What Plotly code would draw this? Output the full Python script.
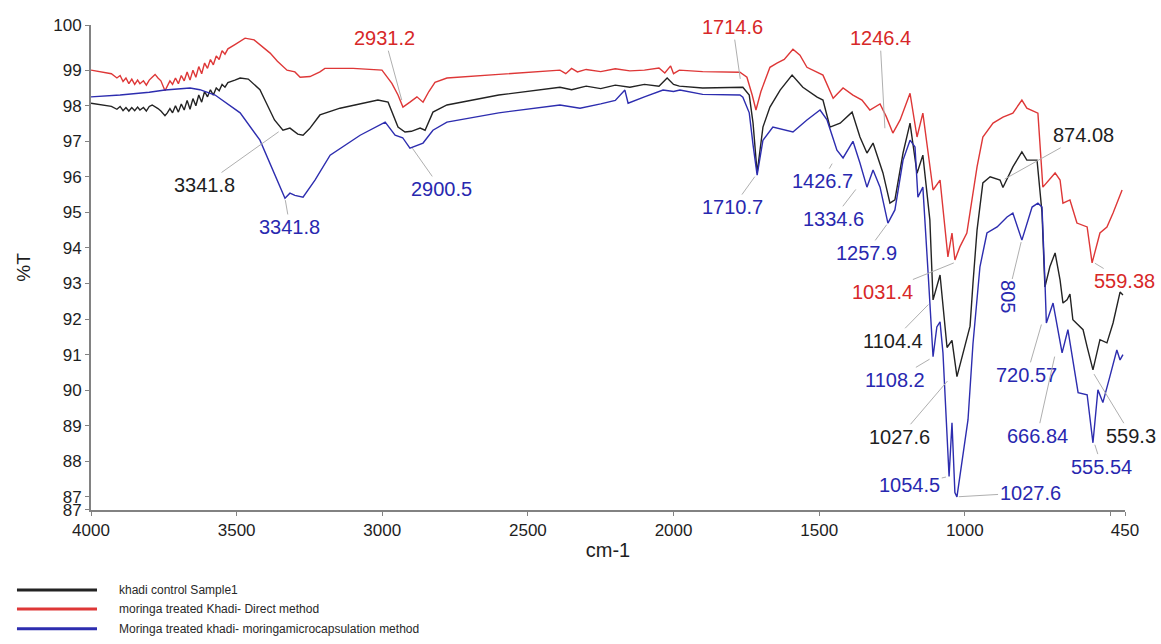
import plotly.graph_objects as go

# ---------------- data (wavenumber cm-1, %T) ----------------
ctrl_wn = [4000, 3960, 3930, 3911, 3900, 3890, 3880, 3870, 3860, 3850, 3840, 3832, 3820, 3810, 3800, 3790,
           3780, 3770, 3760, 3746, 3738, 3729, 3720, 3710, 3700, 3690, 3680, 3670, 3660, 3650, 3640, 3630,
           3620, 3610, 3600, 3590, 3580, 3570, 3560, 3550, 3540, 3530, 3506, 3488,
           3460, 3420, 3403, 3370, 3341, 3317, 3290, 3272, 3250,
           3214, 3145, 3076, 3015, 2980, 2946, 2922, 2900, 2870, 2853, 2826, 2778, 2600, 2390, 2350, 2300,
           2250, 2200, 2150, 2100, 2050, 2022, 2000, 1980, 1900, 1762, 1740, 1727, 1713, 1693, 1669, 1634,
           1593, 1556, 1507, 1487, 1463, 1428, 1387, 1370, 1360, 1336, 1315, 1281, 1257, 1240, 1212, 1188,
           1164, 1144, 1120, 1109, 1085, 1061, 1044, 1027, 1006, 982, 972, 958, 938, 913, 879, 869,
           835, 804, 787, 752, 735, 725, 708, 690, 673, 663, 649, 639, 629, 604, 594, 580,
           560, 536, 512, 491, 467, 457]
ctrl_t = [98.07, 98.03, 97.98, 97.90, 97.98, 97.86, 97.95, 97.85, 97.95, 97.86, 97.96, 97.88, 97.95, 97.85, 97.98, 98.02,
          97.98, 97.92, 97.85, 97.72, 97.80, 97.92, 97.80, 98.00, 97.82, 98.05, 97.88, 98.15, 97.90, 98.20, 98.00, 98.30,
          98.10, 98.40, 98.25, 98.45, 98.30, 98.50, 98.42, 98.60, 98.52, 98.65, 98.72, 98.78,
          98.75, 98.45, 98.16, 97.60, 97.31, 97.37, 97.20, 97.17, 97.35,
          97.74, 97.93, 98.05, 98.16, 98.10, 97.40, 97.26, 97.28, 97.37, 97.31, 97.82, 98.02, 98.30, 98.52, 98.45, 98.55,
          98.48, 98.58, 98.52, 98.60, 98.55, 98.78, 98.60, 98.55, 98.50, 98.52, 98.30, 97.51, 96.11, 97.40, 97.96, 98.44,
          98.86, 98.52, 98.24, 98.16, 97.40, 97.51, 97.82, 97.40, 97.12, 96.67, 96.95, 96.11, 95.26, 95.35, 96.67, 97.51,
          96.10, 96.61, 94.79, 92.54, 93.24, 91.20, 91.40, 90.38, 91.05, 91.80, 93.00, 94.50, 95.83, 96.00, 95.91, 95.70,
          96.28, 96.70, 96.47, 96.47, 95.00, 92.90, 93.47, 93.86, 93.10, 92.45, 92.54, 92.70, 91.98, 91.78, 91.70, 91.22,
          90.57, 91.42, 91.33, 91.89, 92.76, 92.68]

direct_wn = [4000, 3960, 3930, 3911, 3900, 3890, 3880, 3870, 3860, 3850, 3840, 3832, 3820, 3810, 3800, 3790,
             3780, 3770, 3760, 3746, 3738, 3729, 3720, 3710, 3700, 3690, 3680, 3670, 3660, 3650, 3640, 3630,
             3620, 3610, 3600, 3590, 3580, 3570, 3560, 3550, 3540, 3530, 3506, 3488, 3471,
             3440, 3403, 3385, 3360, 3327, 3300, 3282,
             3248, 3214, 3197, 3100, 3001, 2967, 2946, 2929, 2905, 2881, 2860, 2840, 2819, 2778, 2600, 2390,
             2370, 2350, 2330, 2300, 2250, 2200, 2150, 2100, 2050, 2030, 2010, 2000, 1980, 1900, 1772, 1748,
             1730, 1717, 1700, 1669, 1645, 1620, 1590, 1566, 1542, 1510, 1487, 1452, 1418, 1384, 1353, 1326,
             1291, 1270, 1247, 1222, 1188, 1164, 1144, 1109, 1085, 1058, 1044, 1034, 1017, 993, 982, 958,
             938, 903, 869, 835, 804, 787, 749, 732, 690, 673, 663, 639, 615, 580, 563, 536,
             512, 491, 460]
direct_t = [99.00, 98.95, 98.90, 98.78, 98.85, 98.68, 98.78, 98.62, 98.75, 98.60, 98.72, 98.62, 98.70, 98.58, 98.72, 98.80,
            98.88, 98.78, 98.70, 98.42, 98.55, 98.70, 98.60, 98.78, 98.62, 98.85, 98.70, 98.95, 98.72, 99.00, 98.80, 99.10,
            98.90, 99.20, 99.05, 99.30, 99.15, 99.40, 99.30, 99.55, 99.45, 99.60, 99.72, 99.82, 99.90,
            99.85, 99.60, 99.48, 99.25, 99.00, 98.95, 98.80,
            98.82, 98.95, 99.05, 99.05, 99.00, 98.63, 98.30, 97.96, 98.10, 98.25, 98.10, 98.40, 98.66, 98.78, 98.88, 99.00,
            98.90, 99.05, 98.95, 99.02, 98.96, 99.04, 98.98, 99.00, 99.06, 98.92, 99.12, 98.90, 99.00, 98.96, 98.94, 98.80,
            98.30, 97.88, 98.40, 99.08, 99.20, 99.30, 99.59, 99.42, 99.08, 98.95, 98.86, 98.21, 98.50, 98.30, 98.16, 97.88,
            98.05, 97.70, 97.23, 97.60, 98.35, 97.12, 97.79, 95.63, 95.91, 93.75, 94.42, 93.66, 94.03, 94.42, 94.98, 96.28,
            97.12, 97.51, 97.68, 97.79, 98.16, 97.93, 97.79, 95.71, 96.11, 95.91, 95.26, 95.35, 94.70, 94.59, 93.58, 94.42,
            94.59, 94.98, 95.63]

micro_wn = [4000, 3900, 3800, 3746, 3660, 3626, 3574, 3488, 3420, 3368, 3334, 3317, 3300, 3272, 3231, 3179,
            3076, 2990, 2956, 2930, 2905, 2860, 2826, 2778, 2600, 2390, 2321, 2250, 2200, 2167, 2156, 2100,
            2036, 2000, 1978, 1900, 1772, 1762, 1740, 1727, 1713, 1693, 1659, 1590, 1542, 1497, 1473, 1439,
            1418, 1384, 1360, 1336, 1315, 1291, 1264, 1240, 1212, 1188, 1171, 1161, 1144, 1126, 1109, 1096,
            1085, 1075, 1061, 1054, 1044, 1034, 1027, 1006, 989, 972, 948, 924, 889, 855, 835, 804,
            769, 749, 735, 725, 720, 697, 666, 646, 611, 580, 560, 543, 526, 502, 478, 467, 457]
micro_t = [98.25, 98.30, 98.38, 98.44, 98.50, 98.45, 98.30, 97.80, 97.03, 96.05, 95.40, 95.54, 95.48, 95.43, 95.91, 96.61,
           97.17, 97.54, 97.17, 97.10, 96.81, 96.95, 97.31, 97.54, 97.80, 98.02, 97.93, 98.05, 98.15, 98.44, 98.07, 98.25,
           98.44, 98.40, 98.44, 98.32, 98.30, 98.24, 97.80, 96.90, 96.05, 97.03, 97.40, 97.26, 97.60, 97.88, 97.60, 96.75,
           96.53, 97.00, 96.39, 95.71, 96.19, 95.71, 94.70, 95.07, 96.47, 97.03, 96.84, 95.43, 95.71, 93.30, 90.94, 91.78,
           91.92, 91.05, 88.97, 87.57, 89.08, 87.12, 87.00, 88.24, 89.17, 91.30, 93.47, 94.42, 94.59, 94.87, 94.98, 94.22,
           95.15, 95.26, 95.15, 93.10, 91.89, 92.45, 91.05, 91.70, 89.93, 89.87, 88.52, 90.01, 89.65, 90.38, 91.13, 90.85, 91.00]

series_names = ["khadi control Sample1",
                "moringa treated Khadi- Direct method",
                "Moringa treated khadi- moringamicrocapsulation method"]

x_tick_vals = [4000, 3500, 3000, 2500, 2000, 1500, 1000, 500, 450]
x_tick_text = ["4000", "3500", "3000", "2500", "2000", "1500", "1000", "", "450"]
y_tick_vals = [86.64, 87, 88, 89, 90, 91, 92, 93, 94, 95, 96, 97, 98, 99, 100.26]
y_tick_text = ["87", "87", "88", "89", "90", "91", "92", "93", "94", "95", "96", "97", "98", "99", "100"]

# peak labels: text, series, peak (wn, %T), label centre (wn, %T), angle
peak_text = ["2931.2", "3341.8", "3341.8", "2900.5", "1714.6", "1246.4", "1710.7", "1426.7", "1334.6",
             "1257.9", "1031.4", "874.08", "559.38", "1104.4", "805", "1108.2", "1027.6", "1054.5",
             "1027.6", "720.57", "666.84", "559.3", "555.54"]
peak_series = [1, 0, 2, 2, 1, 1, 2, 2, 2, 2, 1, 0, 1, 0, 2, 2, 0, 2, 2, 2, 2, 0, 2]
peak_wn = [2931.2, 3350, 3334, 2900.5, 1770, 1274, 1717, 1452, 1370, 1264, 1031.4, 869, 559.38, 1120,
           805, 1115, 1055, 1058, 1027.6, 735, 690, 560, 555.54]
peak_t = [98.1, 97.3, 95.4, 96.85, 98.7, 97.31, 96.05, 96.42, 95.69, 94.70, 93.6, 95.91, 93.6, 92.45,
          94.22, 90.9, 90.3, 87.57, 87.0, 91.9, 91.0, 90.5, 88.52]
label_wn = [2991, 3612, 3317, 2798, 1796, 1291, 1796, 1490, 1452, 1339, 1284, 594, 452, 1247,
            852, 1240, 1223, 1189, 776, 787, 752, 428, 530]
label_t = [99.90, 95.77, 94.59, 95.66, 100.21, 99.90, 95.15, 95.88, 94.82, 93.86, 92.76, 97.17, 93.07, 91.39,
           92.62, 90.29, 88.69, 87.32, 87.12, 90.43, 88.72, 88.72, 87.85]
peak_angle = [0] * 14 + [90] + [0] * 8

# ---------------- styles ----------------
line_colors = ["rgb(35,35,35)", "rgb(222,55,55)", "rgb(45,45,175)"]
text_colors = ["rgb(30,30,30)", "rgb(215,40,40)", "rgb(40,40,175)"]
FONT = "Liberation Sans, Arial, sans-serif"

fig = go.Figure()
for wn, t, name, col in [(ctrl_wn, ctrl_t, series_names[0], line_colors[0]),
                         (direct_wn, direct_t, series_names[1], line_colors[1]),
                         (micro_wn, micro_t, series_names[2], line_colors[2])]:
    fig.add_trace(go.Scatter(x=wn, y=t, mode="lines", name=name,
                             line=dict(color=col, width=1.4), showlegend=False))

annotations = []
for txt, s, pw, pt, lw, lt, ang in zip(peak_text, peak_series, peak_wn, peak_t, label_wn, label_t, peak_angle):
    annotations.append(dict(x=pw, y=pt, xref="x", yref="y", ax=lw, ay=lt, axref="x", ayref="y",
                            text=txt, showarrow=True, arrowhead=0, arrowwidth=1,
                            arrowcolor="rgb(175,175,175)", textangle=ang, standoff=2,
                            font=dict(family=FONT, size=20, color=text_colors[s])))

# custom legend (long line samples) below the plot
legend_rows = [-0.165, -0.204, -0.245]
shapes = []
for i, yy in enumerate(legend_rows):
    shapes.append(dict(type="line", xref="paper", yref="paper", x0=-0.0716, x1=0.0058, y0=yy, y1=yy,
                       line=dict(color=line_colors[i], width=3)))
    annotations.append(dict(x=0.0251, y=yy, xref="paper", yref="paper", xanchor="left", yanchor="middle",
                            text=series_names[i], showarrow=False,
                            font=dict(family=FONT, size=12, color="rgb(40,40,40)")))

fig.update_layout(
    width=1161, height=644,
    margin=dict(l=91, r=36, t=25, b=134),
    paper_bgcolor="white", plot_bgcolor="white",
    font=dict(family=FONT, size=16, color="rgb(30,30,30)"),
    annotations=annotations, shapes=shapes,
    xaxis=dict(range=[4000, 450], tickmode="array", tickvals=x_tick_vals, ticktext=x_tick_text,
               showgrid=False, zeroline=False, showline=True, linecolor="rgb(130,130,130)", linewidth=2,
               ticks="outside", ticklen=4, tickcolor="rgb(130,130,130)",
               tickfont=dict(family=FONT, size=17, color="rgb(30,30,30)"),
               title=dict(text="cm-1", font=dict(family=FONT, size=20), standoff=4)),
    yaxis=dict(range=[86.63, 100.27], tickmode="array", tickvals=y_tick_vals, ticktext=y_tick_text,
               showgrid=False, zeroline=False, showline=True, linecolor="rgb(130,130,130)", linewidth=2,
               ticks="outside", ticklen=4, tickcolor="rgb(130,130,130)",
               tickfont=dict(family=FONT, size=17, color="rgb(30,30,30)"),
               title=dict(text="%T", font=dict(family=FONT, size=19), standoff=18)),
)

fig.write_html("out.html", config={"displayModeBar": False},
               post_script="document.body.style.margin='0';document.body.style.overflow='hidden';")
